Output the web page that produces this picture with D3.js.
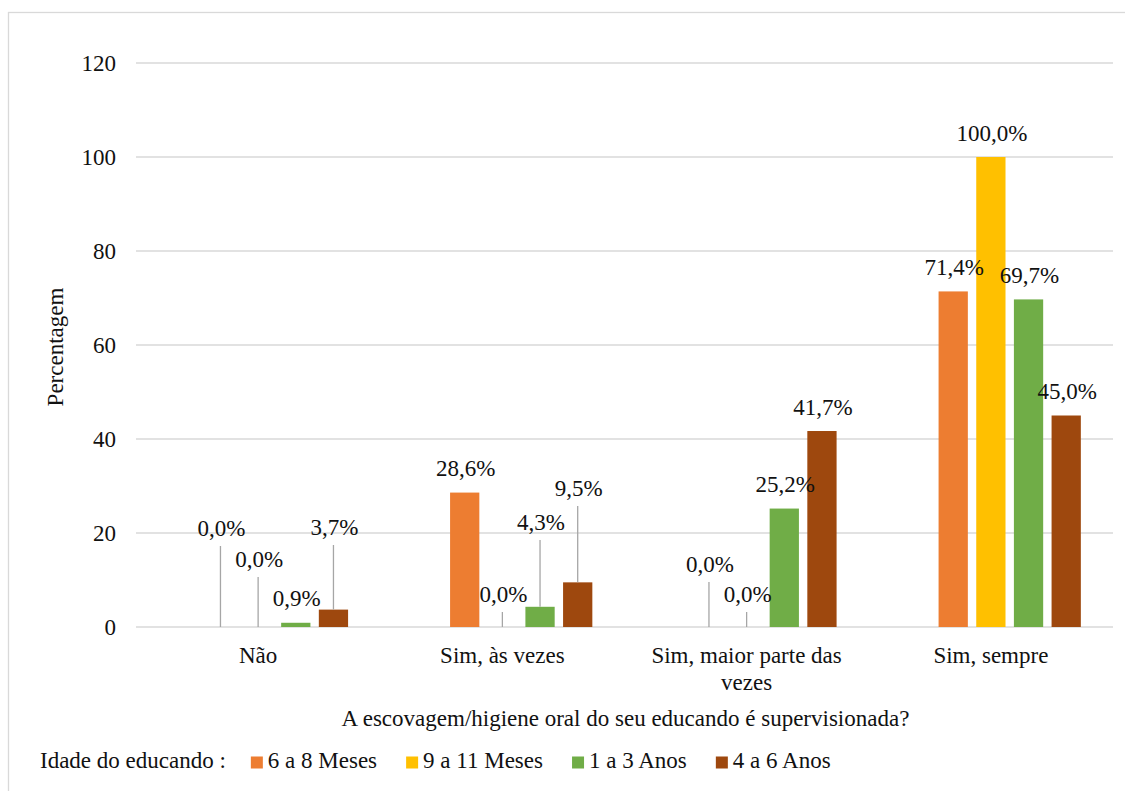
<!DOCTYPE html>
<html>
<head>
<meta charset="utf-8">
<script src="https://cdn.jsdelivr.net/npm/d3@7"></script>
<style>
  @font-face { font-family: "ChartSerif"; src: local("Liberation Serif"), local("LiberationSerif"), local("Times New Roman"); }
  html, body { margin: 0; padding: 0; background: #fff; }
  svg { display: block; }
  svg text { font-family: "ChartSerif", "Liberation Serif", serif; }
</style>
</head>
<body>
<svg id="chart" width="1125" height="791"></svg>
<script>
// ---- Data ----
const categories = ["Não", "Sim, às vezes", "Sim, maior parte das vezes", "Sim, sempre"];
const seriesNames = ["6 a 8 Meses", "9 a 11 Meses", "1 a 3 Anos", "4 a 6 Anos"];
const s6a8Meses  = [0.0, 28.6, 0.0, 71.4];
const s9a11Meses = [0.0, 0.0, 0.0, 100.0];
const s1a3Anos   = [0.9, 4.3, 25.2, 69.7];
const s4a6Anos   = [3.7, 9.5, 41.7, 45.0];
const seriesValues = [s6a8Meses, s9a11Meses, s1a3Anos, s4a6Anos];
const yTicks = [0, 20, 40, 60, 80, 100, 120];
const yTitle = "Percentagem";
const xTitle = "A escovagem/higiene oral do seu educando é supervisionada?";
const legendTitle = "Idade do educando :";

// ---- Style ----
const colors = ["#ED7D31", "#FFC000", "#70AD47", "#9E480E"];
const fontSize = 23;
const FF = "Liberation Serif";
// Data labels that were dragged away from their bars (baseline height above the axis, px)
const movedLabels = {
  "0|0": 91, "0|1": 60, "0|3": 92,
  "1|1": 25, "1|2": 97, "1|3": 131,
  "2|0": 55, "2|1": 25
};

const svg = d3.select("#chart");
const plot = { left: 136, right: 1113, top: 63, bottom: 627 };

function txt(sel) {
  return sel.attr("font-family", FF).style("font-family", FF).attr("font-size", fontSize).attr("fill", "#111");
}

// chart frame
svg.append("rect").attr("x", 8.5).attr("y", 12.5).attr("width", 1140).attr("height", 800)
  .attr("fill", "none").attr("stroke", "#d9d9d9").attr("stroke-width", 1.3);

const y = d3.scaleLinear().domain([0, 120]).range([plot.bottom, plot.top]);
const x0 = d3.scaleBand().domain(categories).range([plot.left, plot.right]).padding(0);
// Excel reserves a leading (empty) series slot in each group
const slots = ["", ...seriesNames];
const x1 = d3.scaleBand().domain(slots).range([0, x0.bandwidth()])
  .paddingInner(0.223).paddingOuter(0.854);

// gridlines
svg.append("g").selectAll("line").data(yTicks).join("line")
  .attr("x1", plot.left).attr("x2", plot.right)
  .attr("y1", d => y(d)).attr("y2", d => y(d))
  .attr("stroke", "#d9d9d9").attr("stroke-width", 1.3);

// y tick labels
txt(svg.append("g").selectAll("text").data(yTicks).join("text")
  .attr("x", 116).attr("y", d => y(d) + 8))
  .attr("text-anchor", "end")
  .text(d => d);

// bars
const fmt = v => d3.format(".1f")(v).replace(".", ",") + "%";
const bars = [];
categories.forEach((c, ci) => {
  seriesNames.forEach((s, si) => {
    bars.push({ c, ci, s, si, v: seriesValues[si][ci] });
  });
});

svg.append("g").selectAll("rect").data(bars).join("rect")
  .attr("x", d => x0(d.c) + x1(d.s))
  .attr("y", d => y(d.v))
  .attr("width", x1.bandwidth())
  .attr("height", d => y(0) - y(d.v))
  .attr("fill", d => colors[d.si]);

// leader lines + data labels
const lblG = svg.append("g");
bars.forEach(d => {
  const key = d.ci + "|" + d.si;
  const cx = x0(d.c) + x1(d.s) + x1.bandwidth() / 2;
  let by;
  if (movedLabels[key] !== undefined) {
    by = y(0) - movedLabels[key];
    lblG.append("line")
      .attr("x1", cx).attr("x2", cx)
      .attr("y1", by + 10).attr("y2", y(d.v))
      .attr("stroke", "#a6a6a6").attr("stroke-width", 1.3);
  } else {
    by = y(d.v) - 16.5;
  }
  txt(lblG.append("text").attr("x", cx + 1).attr("y", by))
    .attr("text-anchor", "middle")
    .text(fmt(d.v));
});

// category labels (two-line wrap for the long one)
const catG = svg.append("g");
const maxW = x0.bandwidth() - 20;
categories.forEach(c => {
  const cx = x0(c) + x0.bandwidth() / 2;
  const words = c.split(" ");
  // approximate width per character for wrapping decision (serif ~0.45em)
  const lines = [];
  let cur = [];
  words.forEach(w => {
    const test = cur.concat([w]).join(" ");
    if (test.length * fontSize * 0.45 > maxW && cur.length) { lines.push(cur.join(" ")); cur = [w]; }
    else cur.push(w);
  });
  lines.push(cur.join(" "));
  lines.forEach((ln, i) => {
    txt(catG.append("text").attr("x", cx).attr("y", 663 + i * 27))
      .attr("text-anchor", "middle").text(ln);
  });
});

// axis titles
txt(svg.append("text").attr("x", (plot.left + plot.right) / 2 + 1).attr("y", 726))
  .attr("text-anchor", "middle").text(xTitle);
txt(svg.append("text").attr("transform", "translate(63,347) rotate(-90)"))
  .attr("text-anchor", "middle").text(yTitle);

// legend (positions follow each label's rendered width)
const lg = svg.append("g");
const ly = 768;
const items = [{ label: legendTitle, color: null }].concat(seriesNames.map((s, i) => ({ label: s, color: colors[i] })));
let lx = 40;
items.forEach((it, i) => {
  if (it.color) {
    lg.append("rect").attr("x", lx).attr("y", ly - 11.5).attr("width", 12).attr("height", 12).attr("fill", it.color);
    lx += 17;
  }
  const t = txt(lg.append("text").attr("x", lx).attr("y", ly)).text(it.label);
  const w = t.node().getBBox().width;
  lx += w + (i === 0 ? 25 : 29);
});
</script>
</body>
</html>
